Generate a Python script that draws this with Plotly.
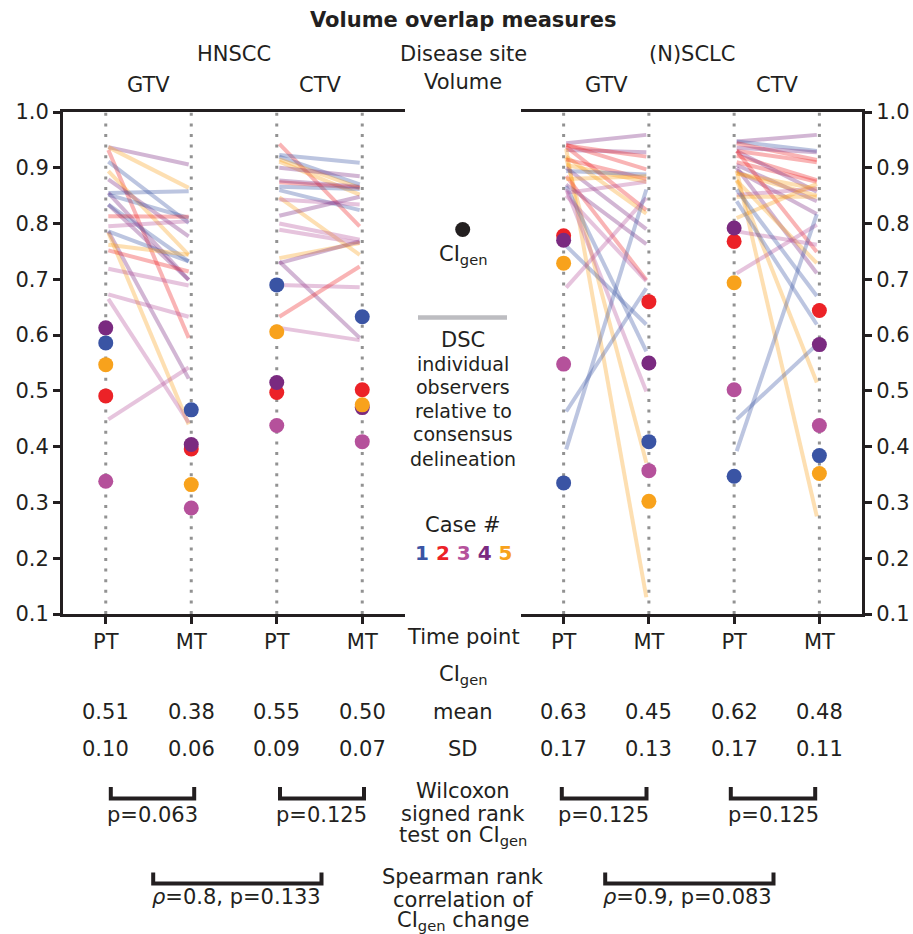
import plotly.graph_objects as go

W, H = 913, 934
FONT = "DejaVu Sans"
INK = "#231f20"

# ---------------- data ----------------
case_ids = [1, 2, 3, 4, 5]
case_colors = ["#3a54a4", "#ec2227", "#b5519b", "#7a2a80", "#f8a21c"]
case_rgb = [(58, 84, 164), (236, 34, 39), (181, 81, 155), (122, 42, 128), (248, 162, 28)]

time_x = [0.5, 1.5, 2.5, 3.5]
time_labels = ["PT", "MT", "PT", "MT"]
volume_x = [1.0, 3.0]
volume_labels = ["GTV", "CTV"]
site_labels = ["HNSCC", "(N)SCLC"]
y_ticks = [0.1, 0.2, 0.3, 0.4, 0.5, 0.6, 0.7, 0.8, 0.9, 1.0]
y_ticktext = ["0.1", "0.2", "0.3", "0.4", "0.5", "0.6", "0.7", "0.8", "0.9", "1.0"]

# CI_gen per case (case 1..5)
ci_hn_gtv_pt = [0.586, 0.491, 0.338, 0.613, 0.547]
ci_hn_gtv_mt = [0.466, 0.396, 0.290, 0.404, 0.332]
ci_hn_ctv_pt = [0.690, 0.497, 0.438, 0.515, 0.606]
ci_hn_ctv_mt = [0.633, 0.502, 0.409, 0.470, 0.475]
ci_lu_gtv_pt = [0.335, 0.778, 0.548, 0.770, 0.729]
ci_lu_gtv_mt = [0.409, 0.660, 0.357, 0.550, 0.302]
ci_lu_ctv_pt = [0.347, 0.768, 0.502, 0.792, 0.694]
ci_lu_ctv_mt = [0.384, 0.644, 0.438, 0.583, 0.352]

# DSC of individual observers (case, PT value, MT value)
dsc_hn_gtv_case = [4, 5, 2, 1, 5, 4, 1, 4, 1, 4, 1, 2, 3, 4, 5, 1, 5, 2, 3, 3, 3, 3]
dsc_hn_gtv_pt = [0.937, 0.937, 0.932, 0.911, 0.894, 0.879, 0.855, 0.855, 0.852, 0.834, 0.834,
                 0.813, 0.795, 0.786, 0.784, 0.786, 0.762, 0.752, 0.719, 0.673, 0.665, 0.449]
dsc_hn_gtv_mt = [0.906, 0.864, 0.595, 0.801, 0.744, 0.777, 0.858, 0.699, 0.810, 0.699, 0.732,
                 0.812, 0.804, 0.522, 0.440, 0.732, 0.744, 0.714, 0.689, 0.633, 0.443, 0.542]

dsc_hn_ctv_case = [2, 1, 1, 5, 5, 4, 2, 4, 1, 1, 5, 3, 4, 3, 3, 5, 4, 4, 3, 2, 3]
dsc_hn_ctv_pt = [0.943, 0.923, 0.920, 0.915, 0.911, 0.900, 0.874, 0.877, 0.866, 0.860, 0.847,
                 0.843, 0.814, 0.800, 0.789, 0.738, 0.729, 0.732, 0.690, 0.633, 0.613]
dsc_hn_ctv_mt = [0.795, 0.909, 0.870, 0.864, 0.852, 0.885, 0.864, 0.866, 0.862, 0.824, 0.744,
                 0.834, 0.848, 0.771, 0.765, 0.765, 0.768, 0.595, 0.686, 0.723, 0.591]

dsc_lu_gtv_case = [4, 4, 2, 2, 2, 5, 5, 5, 2, 5, 4, 1, 2, 4, 1, 3, 3, 5, 1, 3, 1, 1, 3]
dsc_lu_gtv_pt = [0.944, 0.932, 0.940, 0.941, 0.938, 0.934, 0.920, 0.918, 0.915, 0.905, 0.900,
                 0.894, 0.885, 0.870, 0.867, 0.862, 0.855, 0.880, 0.760, 0.685, 0.463, 0.395, 0.850]
dsc_lu_gtv_mt = [0.959, 0.928, 0.920, 0.897, 0.824, 0.130, 0.818, 0.371, 0.880, 0.875, 0.790,
                 0.888, 0.699, 0.763, 0.571, 0.499, 0.875, 0.885, 0.619, 0.846, 0.684, 0.861, 0.697]

dsc_lu_ctv_case = [4, 1, 2, 4, 2, 2, 4, 4, 4, 4, 5, 5, 5, 5, 5, 2, 3, 3, 3, 5, 5, 1, 1, 1, 1, 2]
dsc_lu_ctv_pt = [0.947, 0.947, 0.944, 0.936, 0.922, 0.910, 0.930, 0.905, 0.895, 0.900, 0.890,
                 0.890, 0.877, 0.895, 0.878, 0.930, 0.786, 0.711, 0.851, 0.810, 0.848, 0.861,
                 0.840, 0.392, 0.449, 0.930]
dsc_lu_ctv_mt = [0.959, 0.930, 0.914, 0.928, 0.878, 0.875, 0.857, 0.840, 0.817, 0.711, 0.862,
                 0.850, 0.729, 0.275, 0.515, 0.749, 0.762, 0.798, 0.863, 0.871, 0.848, 0.670,
                 0.619, 0.817, 0.583, 0.910]

mean_hn = ["0.51", "0.38", "0.55", "0.50"]
sd_hn = ["0.10", "0.06", "0.09", "0.07"]
mean_lu = ["0.63", "0.45", "0.62", "0.48"]
sd_lu = ["0.17", "0.13", "0.17", "0.11"]
wilcoxon_hn = ["p=0.063", "p=0.125"]
wilcoxon_lu = ["p=0.125", "p=0.125"]
spearman_hn = "<i>ρ</i>=0.8, p=0.133"
spearman_lu = "<i>ρ</i>=0.9, p=0.083"

# ---------------- figure ----------------
fig = go.Figure()
LINE_ALPHA = 0.34
INSET = 0.03


def px(x):
    return x / W


def py(y):
    return 1 - y / H


def add_panel(xa, ya, ci_sets, dsc_sets):
    # dotted guides
    for tx in time_x:
        fig.add_trace(go.Scatter(x=[tx, tx], y=[0.1, 1.0], mode="lines",
                                 line=dict(color="#929292", width=3, dash="3px,7.6px"),
                                 xaxis=xa, yaxis=ya, hoverinfo="skip"))
    # observer lines
    for k, (cases, pts, mts) in enumerate(dsc_sets):
        x0 = time_x[2 * k] + INSET
        x1 = time_x[2 * k + 1] - INSET
        for c, a, b in zip(cases, pts, mts):
            r, g, bl = case_rgb[c - 1]
            fig.add_trace(go.Scatter(x=[x0, x1], y=[a, b], mode="lines",
                                     line=dict(color=f"rgba({r},{g},{bl},{LINE_ALPHA})", width=4),
                                     xaxis=xa, yaxis=ya, hoverinfo="skip"))
    # CI_gen dots
    for tx, vals in zip(time_x, ci_sets):
        fig.add_trace(go.Scatter(x=[tx] * len(vals), y=vals, mode="markers",
                                 marker=dict(color=case_colors, size=15, line=dict(width=0)),
                                 xaxis=xa, yaxis=ya))


add_panel("x", "y",
          [ci_hn_gtv_pt, ci_hn_gtv_mt, ci_hn_ctv_pt, ci_hn_ctv_mt],
          [(dsc_hn_gtv_case, dsc_hn_gtv_pt, dsc_hn_gtv_mt),
           (dsc_hn_ctv_case, dsc_hn_ctv_pt, dsc_hn_ctv_mt)])
add_panel("x2", "y2",
          [ci_lu_gtv_pt, ci_lu_gtv_mt, ci_lu_ctv_pt, ci_lu_ctv_mt],
          [(dsc_lu_gtv_case, dsc_lu_gtv_pt, dsc_lu_gtv_mt),
           (dsc_lu_ctv_case, dsc_lu_ctv_pt, dsc_lu_ctv_mt)])

# legend glyphs (center column), on a hidden full-page subplot
fig.add_trace(go.Scatter(x=[px(462.7)], y=[py(229.5)], mode="markers",
                         marker=dict(color=INK, size=15), xaxis="x5", yaxis="y5"))
fig.add_trace(go.Scatter(x=[px(418), px(507)], y=[py(317.5)] * 2, mode="lines",
                         line=dict(color="#bdbdc1", width=4.5), xaxis="x5", yaxis="y5"))

ydom = [py(614), py(112)]
axis_common = dict(showgrid=False, zeroline=False, linecolor=INK, linewidth=3, automargin=False,
                   ticks="outside", ticklen=7, tickwidth=3, tickcolor=INK,
                   tickfont=dict(family=FONT, size=21, color=INK))
axis_notxt = {k: v for k, v in axis_common.items() if k != "tickfont"}

fig.update_layout(
    width=W, height=H, margin=dict(l=0, r=0, t=0, b=0, pad=0, autoexpand=False),
    paper_bgcolor="white", plot_bgcolor="rgba(0,0,0,0)", showlegend=False,
    font=dict(family=FONT, size=21, color=INK),
    xaxis=dict(domain=[px(63), px(405)], range=[0, 4], anchor="y", showline=True, mirror=True,
               tickvals=time_x, ticktext=time_labels, **axis_common),
    yaxis=dict(domain=ydom, range=[0.1, 1.0], anchor="x", showline=True,
               tickvals=y_ticks, ticktext=y_ticktext, **axis_common),
    xaxis3=dict(overlaying="x", side="top", range=[0, 4], anchor="y", showline=False,
                tickvals=volume_x, showticklabels=False, **axis_notxt),
    xaxis2=dict(domain=[px(521), px(862)], range=[0, 4], anchor="y2", showline=True, mirror=True,
                tickvals=time_x, ticktext=time_labels, **axis_common),
    yaxis2=dict(domain=ydom, range=[0.1, 1.0], anchor="x2", side="right", showline=True,
                tickvals=y_ticks, ticktext=y_ticktext, **axis_common),
    xaxis4=dict(overlaying="x2", side="top", range=[0, 4], anchor="y2", showline=False,
                tickvals=volume_x, showticklabels=False, **axis_notxt),
    xaxis5=dict(domain=[0, 1], range=[0, 1], visible=False, anchor="y5", automargin=False),
    yaxis5=dict(domain=[0, 1], range=[0, 1], visible=False, anchor="x5", automargin=False),
)

ann = []


def text(t, x, y, size=21, xref="paper", bold=False):
    ann.append(dict(text=f"<b>{t}</b>" if bold else t, x=x if xref != "paper" else px(x), y=py(y),
                    xref=xref, yref="paper", xanchor="center", yanchor="middle", showarrow=False,
                    font=dict(family=FONT, size=size, color=INK)))


# headers
text("Volume overlap measures", 463, 20, bold=True)
text(site_labels[0], 234, 54)
text("Disease site", 463, 54)
text(site_labels[1], 692, 54)
text("Volume", 463, 82)
for vx, vl in zip(volume_x, volume_labels):
    text(vl, vx, 85, xref="x")
    text(vl, vx, 85, xref="x2")

# legend
text("CI<sub>gen</sub>", 463, 255)
text("DSC", 463, 340)
for t, yy in zip(["individual", "observers", "relative to", "consensus", "delineation"],
                 [364, 387, 411, 434, 459]):
    text(t, 463, yy, size=19)
text("Case #", 463, 525)
nums = " ".join(f'<span style="color:{c}">{i}</span>' for i, c in zip(case_ids, case_colors))
text(nums, 463, 553, size=20, bold=True)

# below-axis table
text("Time point", 463, 637)
text("CI<sub>gen</sub>", 463, 675)
text("mean", 463, 712)
text("SD", 463, 749)
for tx, m, s in zip(time_x, mean_hn, sd_hn):
    text(m, tx, 712, xref="x")
    text(s, tx, 749, xref="x")
for tx, m, s in zip(time_x, mean_lu, sd_lu):
    text(m, tx, 712, xref="x2")
    text(s, tx, 749, xref="x2")

text("Wilcoxon", 463, 791)
text("signed rank", 463, 814)
text("test on CI<sub>gen</sub>", 463, 836)
text("Spearman rank", 463, 877)
text("correlation of", 463, 900)
text("CI<sub>gen</sub> change", 463, 921)

# brackets
shapes = []
brackets = [(110.8, 194.2, 787, 798.5), (280, 364, 787, 798.5),
            (561.8, 646.5, 787, 798.5), (730.8, 815.2, 787, 798.5),
            (153.2, 321.5, 872.5, 883.5), (605.2, 773.5, 872.5, 883.5)]
for x0, x1, y0, y1 in brackets:
    shapes.append(dict(type="path", xref="paper", yref="paper",
                       path=f"M {px(x0)},{py(y0)} L {px(x0)},{py(y1)} L {px(x1)},{py(y1)} L {px(x1)},{py(y0)}",
                       line=dict(color=INK, width=4)))
text(wilcoxon_hn[0], 152, 815)
text(wilcoxon_hn[1], 321.5, 815)
text(wilcoxon_lu[0], 603.7, 815)
text(wilcoxon_lu[1], 773, 815)
text(spearman_hn, 236.3, 897)
text(spearman_lu, 687.3, 897)

fig.update_layout(annotations=ann, shapes=shapes)
fig.write_html("out.html", config={"displayModeBar": False},
               post_script="document.body.style.margin='0';")
